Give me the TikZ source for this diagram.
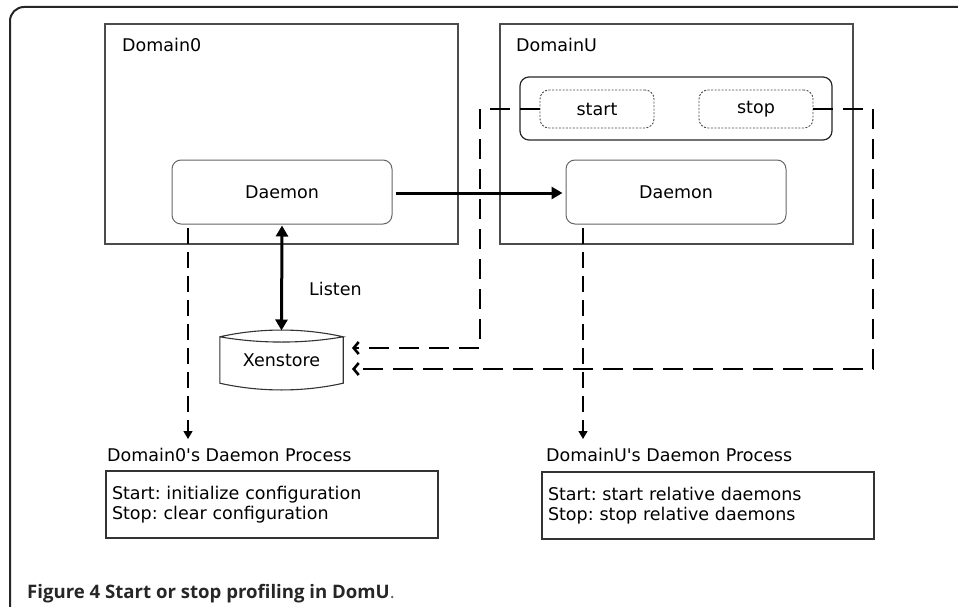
\documentclass[tikz,border=0pt]{standalone}
\usepackage{fontspec}
\setmainfont{DejaVu Sans}[Ligatures=TeXOff]
\newfontfamily\capfont{Open Sans}
\usetikzlibrary{arrows.meta}
\begin{document}
\frenchspacing
\begin{tikzpicture}[x=1pt,y=-1pt,
  font=\fontsize{17.5}{20.5}\selectfont,
  dombox/.style={draw=black!70, line width=1.1pt, minimum width=353pt, minimum height=220pt, inner sep=0pt},
  daemonbox/.style={draw=black!60, line width=1pt, rounded corners=9pt, minimum width=220pt, minimum height=64pt, inner sep=0pt},
  ctrlbox/.style={draw=black!70, line width=0.9pt, dash pattern=on 2pt off 1.5pt, rounded corners=9pt, minimum width=114pt, minimum height=38pt, inner sep=0pt},
  barbox/.style={draw=black!85, line width=1.2pt, rounded corners=9pt, minimum width=312pt, minimum height=63pt, inner sep=0pt},
  lbl/.style={anchor=west, inner sep=0pt},
  procbox/.style={draw=black!80, line width=1.1pt, text width=320pt, inner xsep=6pt, inner ysep=0pt, minimum height=67pt, align=left},
  thickarrow/.style={line width=3pt, -{Triangle[length=11pt,width=12pt]}},
  wire/.style={line width=2.6pt, dash pattern=on 20pt off 10pt, -{Straight Barb[length=5pt,width=12pt]}},
  thinarrow/.style={line width=1.3pt, dash pattern=on 16pt off 8pt, -{Triangle[length=8pt,width=9pt]}},
  cyl/.style={draw=black!80, line width=1.1pt}
]
\useasboundingbox (0,0) rectangle (958,607);
% outer frame
\draw[line width=2pt, black!85, rounded corners=14pt] (10,607) -- (10,7) -- (958,7);

% domains
\node[dombox] (dom0) at (281.5,134) {};
\node[dombox] (domU) at (676.5,134) {};
\node[lbl] (dom0lbl) at (122,45) {Domain0};
\node[lbl] (domUlbl) at (516,45) {DomainU};

% control bar
\node[barbox] (bar) at (676,108.5) {};
\node[ctrlbox] (start) at (597,109) {start};
\node[ctrlbox] (stop) at (756,109) {stop};

% daemons
\node[daemonbox] (d0) at (282,192) {Daemon};
\node[daemonbox] (dU) at (676,192) {Daemon};

% xenstore
\node[minimum width=123pt, minimum height=46pt, inner sep=0pt] (xen) at (281.5,360) {Xenstore};
\draw[cyl] (xen.north west) .. controls +(40,-9) and +(-40,-9) .. (xen.north east)
  .. controls +(-40,7) and +(40,7) .. (xen.north west) -- (xen.south west)
  .. controls +(40,9) and +(-40,9) .. (xen.south east) -- (xen.north east);
\coordinate (xtop) at (281.5,330.5);

% main arrows
\draw[thickarrow, shorten <=3pt, shorten >=3pt] (d0.east |- 0,193) -- (dU.west |- 0,193);
\draw[line width=3pt, {Triangle[length=11pt,width=12pt]}-{Triangle[length=11pt,width=12pt]}, shorten <=1pt] (d0.south) -- (xtop);
\node[lbl] (listen) at (309,289) {Listen};

% dashed wires to xenstore
\coordinate (jl) at (480,109);
\coordinate (jr) at (873,109);
\coordinate (xa) at (352,348);
\coordinate (xb) at (352,369);
\draw[wire] (start.west) -- (jl) |- (xa);
\draw[wire] (stop.east) -- (jr) |- (xb);

% thin dashed arrows to processes
\coordinate (t0s) at (188,228);
\coordinate (t0e) at (188,439);
\coordinate (tUs) at (583,228);
\coordinate (tUe) at (583,439);
\draw[thinarrow] (t0s) -- (t0e);
\draw[thinarrow] (tUs) -- (tUe);

% process descriptions
\node[lbl] (p0lbl) at (107,455) {Domain0's Daemon Process};
\node[procbox] (p0) at (272,504.5) {Start: initialize configuration\\Stop: clear configuration};
\node[lbl] (pUlbl) at (546,455) {DomainU's Daemon Process};
\node[procbox] (pU) at (708,505.5) {Start: start relative daemons\\Stop: stop relative daemons};

% caption
\node[anchor=base west, inner sep=0pt, text=black!85] (cap) at (27,598)
  {\fontsize{18.6}{20}\selectfont\capfont\bfseries Figure 4 Start or stop profiling in DomU{\mdseries\color{black!60}.}};
\end{tikzpicture}
\end{document}
